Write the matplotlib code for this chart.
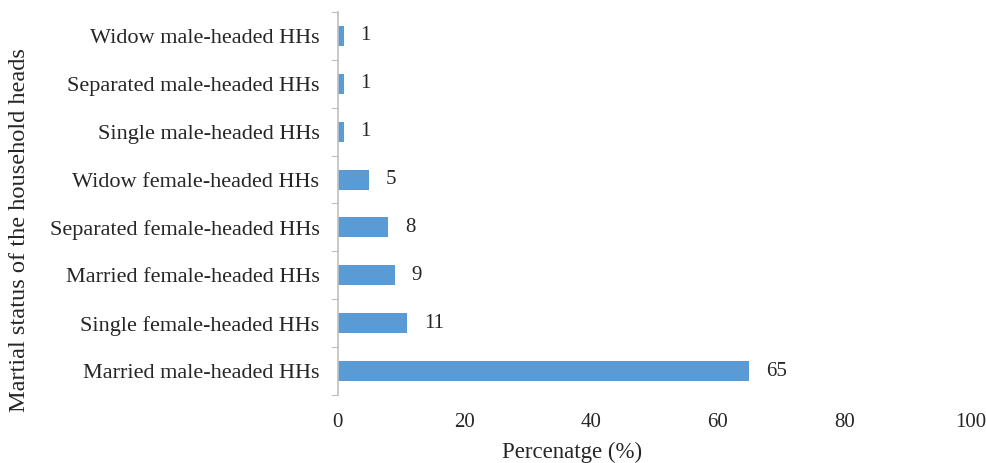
import matplotlib
matplotlib.use("Agg")
import matplotlib.pyplot as plt
import numpy as np

categories = [
    "Married male-headed HHs",
    "Single female-headed HHs",
    "Married female-headed HHs",
    "Separated female-headed HHs",
    "Widow female-headed HHs",
    "Single male-headed HHs",
    "Separated male-headed HHs",
    "Widow male-headed HHs",
]
percentages = [65, 11, 9, 8, 5, 1, 1, 1]
x_ticks = [0, 20, 40, 60, 80, 100]

plt.rcParams["font.family"] = ["Liberation Serif", "DejaVu Serif"]
text_color = "#262626"
bar_color = "#5B9BD5"
spine_color = "#BFBFBF"

fig = plt.figure(figsize=(9.87, 4.63), dpi=100)
ax = fig.add_axes([0.342, 0.147, 0.642, 0.827])

y = np.arange(len(categories))
ax.barh(y, percentages, height=0.42, color=bar_color, zorder=2)

for yi, v in zip(y, percentages):
    ax.annotate(f"{v}", xy=(v, yi), xytext=(12, 0), textcoords="offset points",
                ha="left", va="center", fontsize=15, color=text_color)

ax.set_xlim(0, 100)
ax.set_ylim(-0.5, len(categories) - 0.5)

# category boundaries as tick marks, names on minor ticks at the centres
ax.set_yticks(np.arange(-0.5, len(categories), 1.0))
ax.set_yticklabels([])
ax.tick_params(axis="y", which="major", length=5, color=spine_color, direction="out")
ax.set_yticks(y, minor=True)
ax.set_yticklabels(categories, minor=True)
ax.tick_params(axis="y", which="minor", length=0, pad=13, labelsize=16, labelcolor=text_color)

ax.set_xticks(x_ticks)
ax.set_xticklabels([str(t) for t in x_ticks])
ax.tick_params(axis="x", length=0, pad=13, labelsize=15, labelcolor=text_color)

for side in ("top", "right", "bottom"):
    ax.spines[side].set_visible(False)
ax.spines["left"].set_color(spine_color)
ax.spines["left"].set_linewidth(1.2)

ax.set_xlabel("Percenatge (%)", fontsize=16.5, color=text_color)
ax.xaxis.set_label_coords(0.37, -0.123)
ax.set_ylabel("Martial status of the household heads", fontsize=17.6, color=text_color)
ax.yaxis.set_label_coords(-0.486, 0.431)

fig.savefig("out.png", dpi=100)
